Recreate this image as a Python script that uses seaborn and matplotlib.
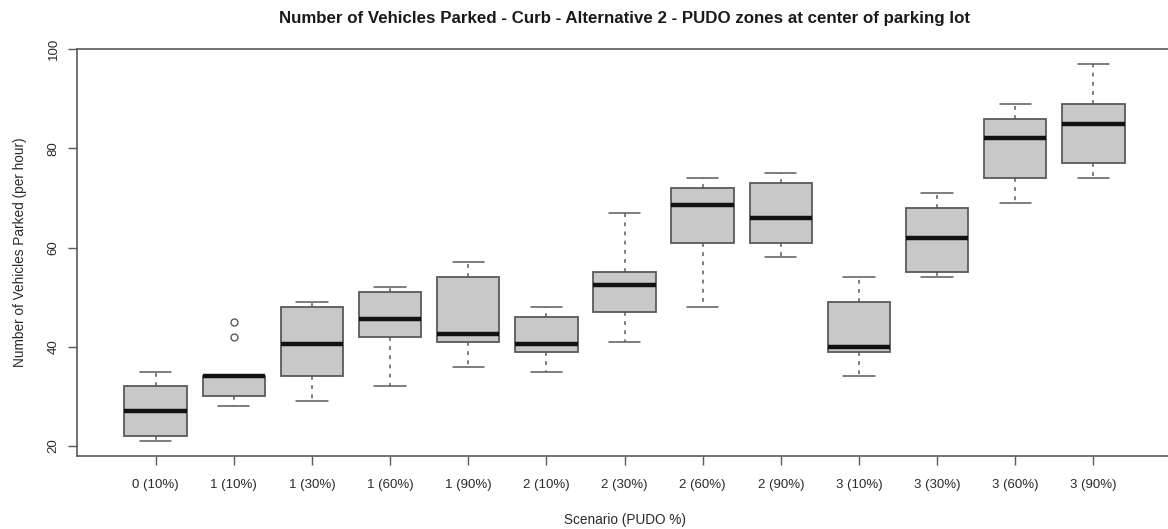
import numpy as np
import pandas as pd
import matplotlib
matplotlib.use("Agg")
import matplotlib.pyplot as plt
import seaborn as sns

# Scenario labels and five-number summaries (vehicles parked per hour)
scenarios = ["0 (10%)", "1 (10%)", "1 (30%)", "1 (60%)", "1 (90%)",
             "2 (10%)", "2 (30%)", "2 (60%)", "2 (90%)",
             "3 (10%)", "3 (30%)", "3 (60%)", "3 (90%)"]
lows    = [21, 28, 29, 32, 36, 35, 41, 48, 58, 34, 54, 69, 74]
q1s     = [22, 30, 34, 42, 41, 39, 47, 61, 61, 39, 55, 74, 77]
medians = [27, 34, 40.5, 45.5, 42.5, 40.5, 52.5, 68.5, 66, 40, 62, 82, 85]
q3s     = [32, 34, 48, 51, 54, 46, 55, 72, 73, 49, 68, 86, 89]
highs   = [35, 34, 49, 52, 57, 48, 67, 74, 75, 54, 71, 89, 97]
outliers = {"1 (10%)": [42, 45]}

yticks = [20, 40, 60, 80, 100]


def group_sample(lo, q1, med, q3, hi, extra):
    """Observations whose quartiles reproduce the given summary."""
    if not extra:
        return [lo, q1, med, q3, hi]
    # nine points: quartiles fall on indices 2, 4 and 6
    return [lo, q1, q1, med, med, q3, q3] + list(extra)


rows = []
for name, lo, a, m, b, hi in zip(scenarios, lows, q1s, medians, q3s, highs):
    for v in group_sample(lo, a, m, b, hi, outliers.get(name, [])):
        rows.append({"Scenario": name, "Vehicles": v})
df = pd.DataFrame(rows)

sns.set_theme(style="ticks")
plt.rcParams["font.family"] = ["Liberation Sans", "DejaVu Sans"]

W, H = 1168, 529
fig = plt.figure(figsize=(W / 100, H / 100), dpi=100)
left_px, right_px, top_px, bottom_px = 77, 1172, 49, 456
ax = fig.add_axes([left_px / W, 1 - bottom_px / H,
                   (right_px - left_px) / W, (bottom_px - top_px) / H])

edge = "#5a5a5a"
sns.boxplot(
    data=df, x="Scenario", y="Vehicles", order=scenarios, ax=ax,
    color="#c8c8c8", saturation=1, width=0.8, whis=1.6,
    linecolor=edge, linewidth=1.3,
    medianprops=dict(color="#111111", linewidth=3.2),
    whiskerprops=dict(color=edge, linestyle=(0, (2.5, 3.5)), linewidth=1.1),
    capprops=dict(color=edge, linewidth=1.1),
    flierprops=dict(marker="o", markerfacecolor="none", markeredgecolor=edge,
                    markersize=5, markeredgewidth=1.0),
)

ax.set_xlim(-1.007, 13.007)
ax.set_ylim(17.96, 100.04)
ax.set_yticks(yticks)
ax.set_yticklabels([str(t) for t in yticks], rotation=90, va="center")

for s in ["left", "bottom", "top", "right"]:
    ax.spines[s].set_visible(True)
    ax.spines[s].set_color("#5a5a5a")
    ax.spines[s].set_linewidth(1.2)

ax.tick_params(axis="both", which="major", direction="out", length=6.5,
               width=1.0, color="#5a5a5a", labelsize=9.5,
               labelcolor="#2a2a2a", bottom=True, left=True,
               top=False, right=False)
ax.tick_params(axis="x", pad=10)
ax.tick_params(axis="y", pad=6)

ax.set_xlabel("Scenario (PUDO %)", fontsize=9.8, color="#2a2a2a", labelpad=16)
ax.set_ylabel("Number of Vehicles Parked (per hour)", fontsize=9.8,
              color="#2a2a2a", labelpad=15)

fig.text((left_px + right_px) / 2 / W, 1 - 18 / H,
         "Number of Vehicles Parked - Curb - Alternative 2 - PUDO zones at center of parking lot",
         ha="center", va="center", fontsize=12.2, fontweight="bold", color="#1a1a1a")

fig.savefig("out.png", dpi=100)
